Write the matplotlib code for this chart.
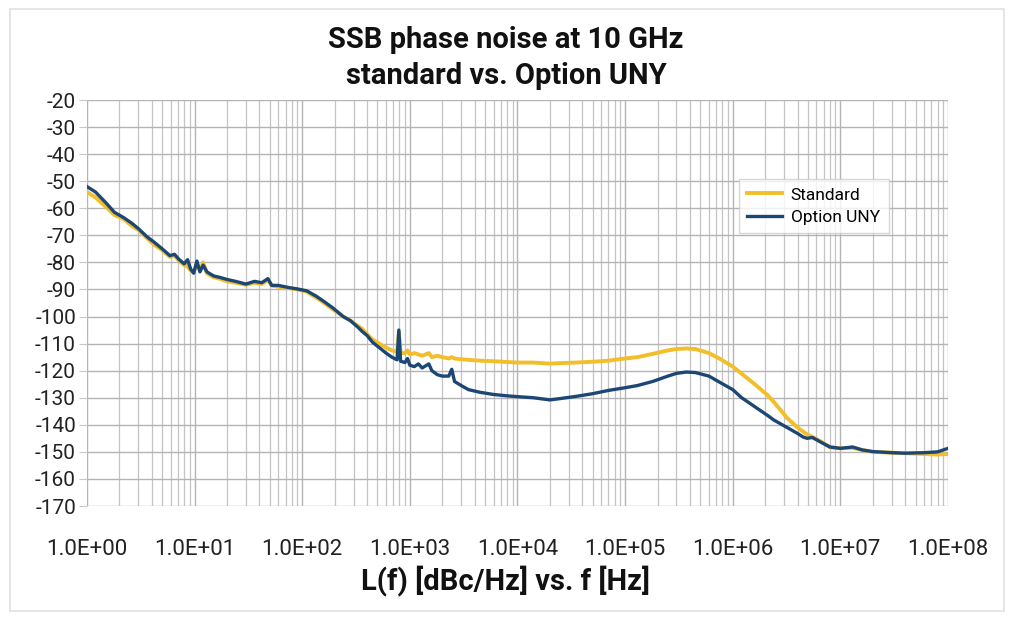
import matplotlib
matplotlib.use("Agg")
import matplotlib.pyplot as plt
import matplotlib.ticker as mticker
from matplotlib.patches import Rectangle
import numpy as np

# offset frequency [Hz]
freq = [1.0, 1.2, 1.5, 1.8, 2.2, 2.6, 3.0, 3.6, 4.2, 5.0, 5.9, 6.5, 7.2, 8.0, 8.6,
        9.2, 9.8, 10.5, 11.2, 12.0, 13.0, 15.0, 17.0, 20.0, 24.0, 30.0, 36.0, 42.0,
        48.0, 52.0, 60.0, 75.0, 90.0, 110.0, 135.0, 160.0, 195.0, 240.0, 280.0,
        330.0, 360.0, 400.0, 450.0, 520.0, 600.0, 680.0, 760.0, 790.0, 820.0, 900.0,
        950.0, 1.0e3, 1.1e3, 1.2e3, 1.3e3, 1.5e3, 1.6e3, 1.8e3, 2.0e3, 2.3e3, 2.45e3,
        2.6e3, 3.0e3, 3.5e3, 4.5e3, 6.0e3, 8.0e3, 1.0e4, 1.4e4, 2.0e4, 2.5e4, 3.5e4,
        5.0e4, 7.0e4, 1.0e5, 1.3e5, 1.8e5, 2.5e5, 3.0e5, 3.7e5, 4.5e5, 6.0e5, 7.5e5,
        1.0e6, 1.2e6, 1.6e6, 2.1e6, 2.4e6, 3.2e6, 4.0e6, 4.5e6, 4.9e6, 5.5e6, 6.5e6,
        8.0e6, 1.0e7, 1.3e7, 1.6e7, 2.0e7, 3.0e7, 4.0e7, 6.0e7, 8.0e7, 1.0e8]

standard = [-54, -56, -59.5, -62.5, -64, -66.5, -68, -71, -73.5, -75.5, -78, -77.5,
            -79.5, -81, -81.5, -83, -83.5, -80.5, -83, -80, -84, -85.5, -86, -87,
            -87.5, -88.3, -87.5, -88, -86.5, -88.5, -89, -89.5, -90, -90.8, -93, -95,
            -97.5, -100, -101.5, -103.5, -104.5, -106.5, -108.5, -110, -111.5, -112.5,
            -113, -106, -113.5, -113.5, -112.5, -114, -113.5, -114, -114.5, -113.5,
            -115, -114.5, -115, -115.5, -115, -115.5, -115.8, -116, -116.3, -116.5,
            -116.8, -117, -117, -117.4, -117.2, -117, -116.7, -116.3, -115.5, -115,
            -113.8, -112.5, -112, -111.8, -112, -113.5, -115.5, -118.5, -121, -125, -129,
            -131.5, -137.5, -141, -142.5, -143.5, -144.5, -146, -148.3, -148.7, -148.5,
            -149.3, -150, -150.3, -150.5, -150.8, -151, -150.8]

option_uny = [-52, -54, -58, -61.5, -63.5, -65.5, -67.5, -70.5, -72.5, -75, -77.5, -77,
              -79, -80.5, -79, -82.5, -84, -79.5, -83.5, -81, -83.5, -85, -85.5, -86.3,
              -87, -88, -87, -87.5, -86, -88.5, -88.5, -89.3, -89.8, -90.5, -92.5, -94.5,
              -97, -100, -101.5, -104, -105.5, -107, -109.5, -111.5, -113.5, -115, -116,
              -105, -116.5, -117, -115.5, -118, -118.5, -117.5, -119, -117.5, -120,
              -121.5, -122, -122, -119.5, -124, -125.5, -127, -128, -128.8, -129.3,
              -129.6, -130, -130.8, -130.3, -129.5, -128.5, -127.3, -126.3, -125.5, -124,
              -122, -121, -120.5, -120.7, -122, -124.2, -127, -129.9, -133.3, -136.5,
              -138.2, -141, -143.2, -144.5, -145, -144.7, -146.3, -148.2, -148.7, -148.2,
              -149.3, -149.9, -150.3, -150.5, -150.3, -150, -148.7]

xticks = [1e0, 1e1, 1e2, 1e3, 1e4, 1e5, 1e6, 1e7, 1e8]
yticks = list(range(-170, -19, 10))

plt.rcParams["font.family"] = ["Roboto", "DejaVu Sans"]
plt.rcParams["axes.unicode_minus"] = False

fig = plt.figure(figsize=(10.12, 6.19), dpi=100)
fig.patches.append(Rectangle((10 / 1012, 8 / 619), 994 / 1012, 602 / 619,
                             transform=fig.transFigure, fill=False,
                             edgecolor="#e0e0e0", lw=1.2))

ax = fig.add_axes([87 / 1012, (619 - 506) / 619, 861 / 1012, 406 / 619])
ax.plot(freq, standard, color="#f2bf2a", lw=2.8, label="Standard", zorder=3)
ax.plot(freq, option_uny, color="#1c4775", lw=2.4, label="Option UNY", zorder=4)

ax.set_xscale("log")
ax.set_xlim(1e0, 1e8)
ax.set_ylim(-170, -20)
ax.set_xticks(xticks)
ax.xaxis.set_major_formatter(mticker.FuncFormatter(lambda v, p: f"{v:.1E}"))
ax.xaxis.set_minor_locator(mticker.LogLocator(base=10, subs=np.arange(2, 10), numticks=100))
ax.xaxis.set_minor_formatter(mticker.NullFormatter())
ax.set_yticks(yticks)

ax.grid(True, which="major", axis="both", color="#b4b4b4", lw=1.0)
ax.grid(True, which="minor", axis="x", color="#c4c4c4", lw=0.9)
for s in ax.spines.values():
    s.set_visible(False)
ax.tick_params(axis="x", which="both", length=0, pad=24, labelsize=16, labelcolor="#222222")
ax.tick_params(axis="y", length=6, color="#c8c8c8", pad=2, labelsize=15, labelcolor="#222222")

fig.text(0.5, 1 - 40 / 619, "SSB phase noise at 10 GHz", ha="center", va="center",
         fontsize=21, fontweight="bold", color="#111111")
fig.text(0.5, 1 - 76 / 619, "standard vs. Option UNY", ha="center", va="center",
         fontsize=21, fontweight="bold", color="#111111")
fig.text(0.5, 1 - 581 / 619, "L(f) [dBc/Hz] vs. f [Hz]", ha="center", va="center",
         fontsize=21, fontweight="bold", color="#111111")

leg = ax.legend(loc="upper left", bbox_to_anchor=((730 - 87) / 861, (506 - 170) / 406),
                fontsize=12.5, frameon=True, fancybox=False, handlelength=2.0,
                borderpad=0.5, labelspacing=0.4, handletextpad=0.5)
leg.get_frame().set_edgecolor("#cccccc")
leg.get_frame().set_linewidth(1.0)

fig.savefig("out.png", dpi=100)
